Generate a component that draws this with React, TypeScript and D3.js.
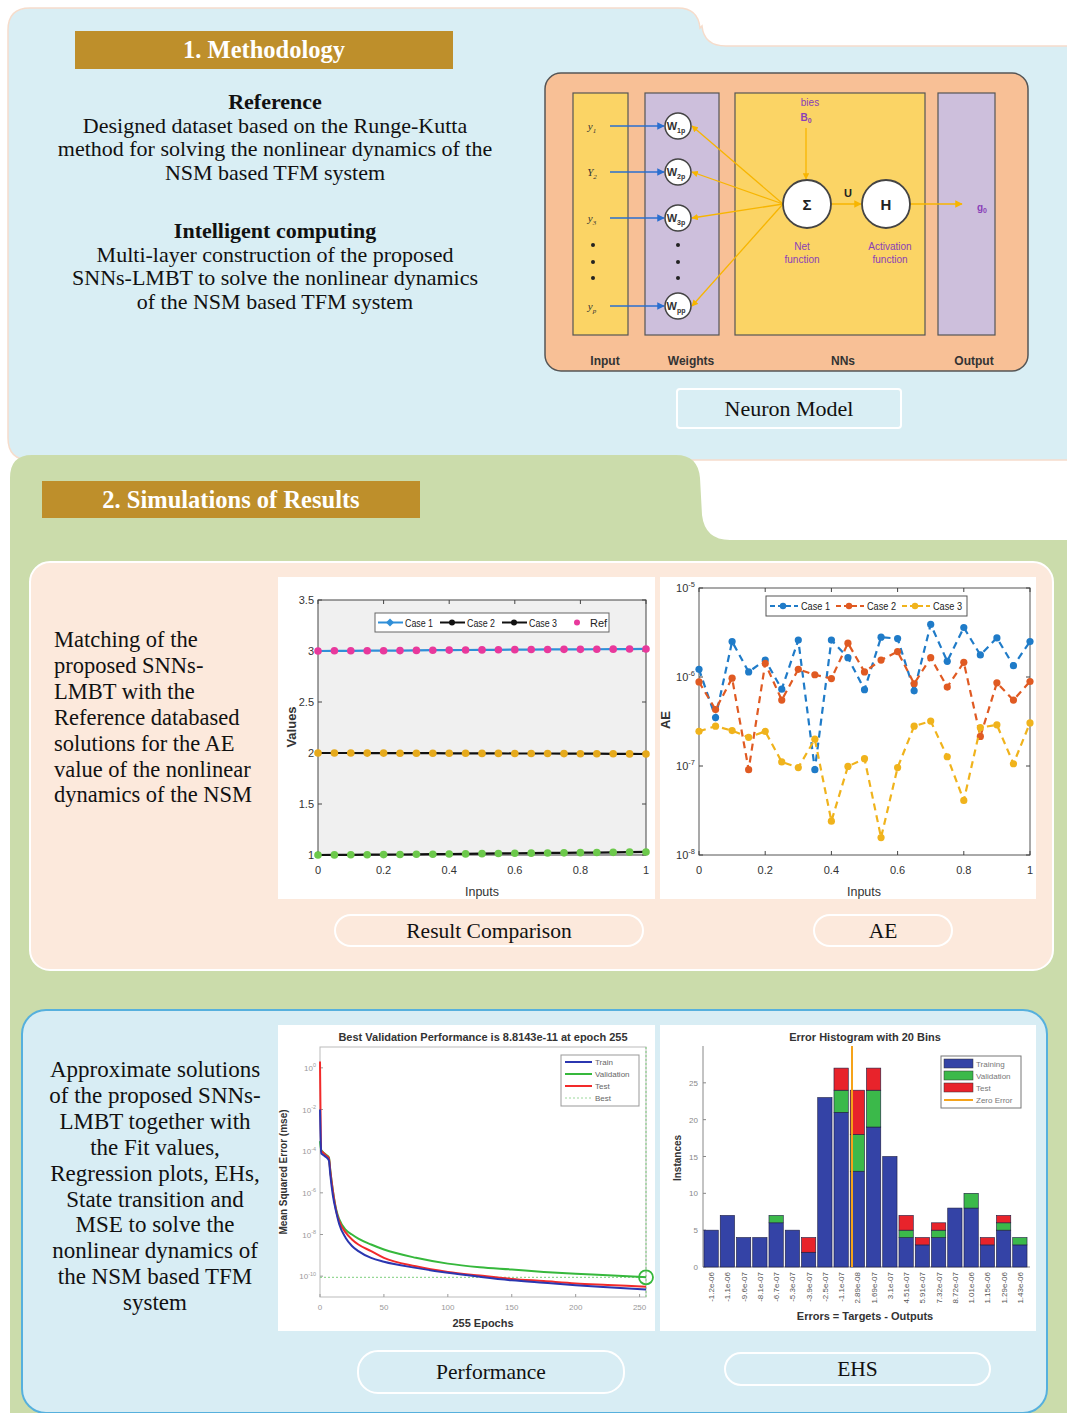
import React from "react";
import * as d3 from "d3";

// ---- data ----
const inputs = [0, 0.05, 0.1, 0.15, 0.2, 0.25, 0.3, 0.35, 0.4, 0.45, 0.5, 0.55, 0.6, 0.65, 0.7, 0.75, 0.8, 0.85, 0.9, 0.95, 1];

const case1Values = [3.0, 3.002, 3.002, 3.003, 3.003, 3.004, 3.006, 3.008, 3.009, 3.01, 3.011, 3.012, 3.013, 3.014, 3.015, 3.016, 3.016, 3.017, 3.018, 3.019, 3.02];
const case2Values = [2.0, 2.0, 2.0, 1.999, 1.999, 1.998, 1.998, 1.998, 1.997, 1.997, 1.996, 1.996, 1.995, 1.995, 1.995, 1.994, 1.993, 1.993, 1.992, 1.991, 1.99];
const case3Values = [1.0, 1.001, 1.002, 1.003, 1.004, 1.005, 1.007, 1.008, 1.01, 1.011, 1.013, 1.015, 1.017, 1.018, 1.02, 1.021, 1.023, 1.024, 1.026, 1.028, 1.03];

const aeCase1 = [1.22e-6, 3.5e-7, 2.5e-6, 1.14e-6, 1.55e-6, 7.3e-7, 2.6e-6, 9.1e-8, 2.6e-6, 1.65e-6, 7.2e-7, 2.8e-6, 2.7e-6, 7.0e-7, 3.9e-6, 1.5e-6, 3.6e-6, 1.77e-6, 2.75e-6, 1.34e-6, 2.5e-6];
const aeCase2 = [8.8e-7, 4.3e-7, 9.7e-7, 9.1e-8, 1.42e-6, 5.5e-7, 1.22e-6, 1.06e-6, 9.6e-7, 2.4e-6, 1.14e-6, 1.55e-6, 1.93e-6, 8.4e-7, 1.65e-6, 7.7e-7, 1.46e-6, 2.15e-7, 8.6e-7, 5.5e-7, 8.9e-7];
const aeCase3 = [2.45e-7, 2.8e-7, 2.5e-7, 2.1e-7, 2.45e-7, 1.11e-7, 9.6e-8, 2.0e-7, 2.4e-8, 9.9e-8, 1.21e-7, 1.57e-8, 9.6e-8, 2.8e-7, 3.2e-7, 1.27e-7, 4.1e-8, 2.7e-7, 2.9e-7, 1.06e-7, 3.05e-7];

const epochs = [0, 1, 2, 5, 7, 8, 10, 13, 15, 20, 25, 30, 40, 50, 75, 100, 125, 150, 175, 200, 225, 255];
const trainMse = [1e-2, 8e-5, 7e-5, 5e-5, 3.5e-5, 8e-6, 8e-7, 1e-7, 3.2e-8, 7e-9, 2.8e-9, 1.6e-9, 7.5e-10, 4.9e-10, 2.5e-10, 1.45e-10, 9.3e-11, 6.3e-11, 4.8e-11, 3.7e-11, 2.95e-11, 2.3e-11];
const validationMse = [3e-4, 1.1e-4, 9.5e-5, 6.5e-5, 5e-5, 1.3e-5, 1.4e-6, 1.3e-7, 5.5e-8, 1.7e-8, 1e-8, 6.3e-9, 3.3e-9, 1.9e-9, 7.6e-10, 4e-10, 2.7e-10, 2.1e-10, 1.6e-10, 1.3e-10, 1.12e-10, 8.8143e-11];
const testMse = [2, 1e-4, 9e-5, 6e-5, 4.5e-5, 1.2e-5, 1.3e-6, 1.1e-7, 4.4e-8, 1.26e-8, 5.8e-9, 3.3e-9, 1.6e-9, 7.6e-10, 3e-10, 1.6e-10, 1.07e-10, 7.4e-11, 5.8e-11, 4.5e-11, 3.8e-11, 3.1e-11];
const bestEpoch = 255;
const bestValue = 8.8143e-11;

const binLabels = ["-1.2e-06", "-1.1e-06", "-9.6e-07", "-8.1e-07", "-6.7e-07", "-5.3e-07", "-3.9e-07", "-2.5e-07", "-1.1e-07", "2.89e-08", "1.69e-07", "3.1e-07", "4.51e-07", "5.91e-07", "7.32e-07", "8.72e-07", "1.01e-06", "1.15e-06", "1.29e-06", "1.43e-06"];
const binCenters = [-1.2e-6, -1.06e-6, -9.6e-7, -8.1e-7, -6.7e-7, -5.3e-7, -3.9e-7, -2.5e-7, -1.1e-7, 2.89e-8, 1.69e-7, 3.1e-7, 4.51e-7, 5.91e-7, 7.32e-7, 8.72e-7, 1.01e-6, 1.15e-6, 1.29e-6, 1.43e-6];
const trainingCounts = [5, 7, 4, 4, 6, 5, 2, 23, 21, 13, 19, 15, 4, 3, 4, 8, 8, 3, 5, 3];
const validationCounts = [0, 0, 0, 0, 1, 0, 0, 0, 3, 5, 5, 0, 1, 0, 1, 0, 2, 0, 1, 1];
const testCounts = [0, 0, 0, 0, 0, 0, 2, 0, 3, 6, 3, 0, 2, 1, 1, 0, 0, 1, 1, 0];

const SERIF = "'Liberation Serif', 'Times New Roman', serif";
const SANS = "'Liberation Sans', Arial, sans-serif";

function Pow({ x, y, exp, size = 10, fill = "#333", anchor = "end" }: any) {
  return (
    <text x={x} y={y} textAnchor={anchor} fontSize={size} fill={fill} fontFamily={SANS}>
      10<tspan dy={-size * 0.45} fontSize={size * 0.68}>{exp}</tspan>
    </text>
  );
}

function Backgrounds() {
  return (
    <g>
      <path
        d="M8,30 Q8,8 30,8 L678,8 Q698,8 700,28 L702,26 Q704,46 726,46 L1090,46 L1090,460 L30,460 Q8,460 8,438 Z"
        fill="#d9eef4" stroke="#f6dccb" strokeWidth={1.5}
      />
      <path
        d="M10,478 Q10,455 32,455 L676,455 Q698,455 700,478 L702,515 Q705,540 730,540 L1090,540 L1090,1430 L10,1430 Z"
        fill="#cbdcab"
      />
      <rect x={30} y={562} width={1023} height={408} rx={20} fill="#fce9dc" stroke="#fff" strokeWidth={2} />
      <rect x={22} y={1010} width={1025} height={403} rx={24} fill="#d8edf4" stroke="#56b0dd" strokeWidth={2} />
    </g>
  );
}

function TitleBar({ x, y, w, h, label }: any) {
  return (
    <g>
      <rect x={x} y={y} width={w} height={h} fill="#be8f2b" />
      <text x={x + w / 2} y={y + h / 2 + 8} textAnchor="middle" fontFamily={SERIF} fontWeight="bold" fontSize={24.5} fill="#fff">
        {label}
      </text>
    </g>
  );
}

function CenteredLines({ x, y0, step, lines, size = 22, anchor = "middle" }: any) {
  return (
    <g>
      {lines.map((l: any, i: number) => (
        <text key={i} x={x} y={y0 + i * step} textAnchor={anchor} fontFamily={SERIF} fontSize={size}
          fontWeight={l.bold ? "bold" : "normal"} fill="#111">
          {l.t}
        </text>
      ))}
    </g>
  );
}

function Pill({ x, y, w, h, label, rx = 16, fill }: any) {
  return (
    <g>
      <rect x={x} y={y} width={w} height={h} rx={rx} fill={fill} stroke="#fff" strokeWidth={2} />
      <text x={x + w / 2} y={y + h / 2 + 7} textAnchor="middle" fontFamily={SERIF} fontSize={21.5} fill="#111">{label}</text>
    </g>
  );
}

function NeuronModel() {
  const wY = [126, 172, 218, 306];
  const inLabels = ["y", "Y", "y", "y"];
  const inSubs = ["1", "2", "3", "p"];
  const wSubs = ["1p", "2p", "3p", "pp"];
  const yellow = "#fbd465";
  const lav = "#cdbfdc";
  const purple = "#8a3fb8";
  return (
    <g fontFamily={SANS}>
      <defs>
        <marker id="arrB" viewBox="0 0 10 10" refX={9} refY={5} markerWidth={5} markerHeight={5} orient="auto">
          <path d="M0,0 L10,5 L0,10 Z" fill="#2a6fd0" />
        </marker>
        <marker id="arrY" viewBox="0 0 10 10" refX={9} refY={5} markerWidth={5} markerHeight={5} orient="auto">
          <path d="M0,0 L10,5 L0,10 Z" fill="#f7b500" />
        </marker>
      </defs>
      <rect x={545} y={73} width={483} height={298} rx={16} fill="#f8c096" stroke="#555" strokeWidth={1.5} />
      <rect x={573} y={93} width={55} height={242} fill={yellow} stroke="#555" strokeWidth={1.2} />
      <rect x={645} y={93} width={74} height={242} fill={lav} stroke="#555" strokeWidth={1.2} />
      <rect x={735} y={93} width={190} height={242} fill={yellow} stroke="#555" strokeWidth={1.2} />
      <rect x={938} y={93} width={57} height={242} fill={lav} stroke="#555" strokeWidth={1.2} />
      {[["Input", 605], ["Weights", 691], ["NNs", 843], ["Output", 974]].map(([t, x]: any) => (
        <text key={t} x={x} y={365} textAnchor="middle" fontSize={12} fontWeight="bold" fill="#333">{t}</text>
      ))}
      {wY.map((y, i) => (
        <g key={i}>
          <text x={592} y={y + 4} textAnchor="middle" fontFamily={SERIF} fontStyle="italic" fontSize={11} fill="#333">
            {inLabels[i]}<tspan dy={3} fontSize={7}>{inSubs[i]}</tspan>
          </text>
          <line x1={610} y1={y} x2={664} y2={y} stroke="#2a6fd0" strokeWidth={1.5} markerEnd="url(#arrB)" />
          <line x1={783} y1={204} x2={692} y2={y} stroke="#f7b500" strokeWidth={1.3} markerEnd="url(#arrY)" />
          <circle cx={678} cy={y} r={13} fill="#fff" stroke="#444" strokeWidth={1.5} />
          <text x={676} y={y + 4} textAnchor="middle" fontSize={11} fontWeight="bold" fill="#333">
            W<tspan dy={3} fontSize={7}>{wSubs[i]}</tspan>
          </text>
        </g>
      ))}
      {[245, 262, 278].map((y) => (
        <g key={y}>
          <circle cx={593} cy={y} r={2} fill="#222" />
          <circle cx={678} cy={y} r={2} fill="#222" />
        </g>
      ))}
      <text x={810} y={106} textAnchor="middle" fontSize={10} fill={purple}>bies</text>
      <text x={806} y={121} textAnchor="middle" fontSize={10} fontWeight="bold" fill={purple}>B<tspan dy={2} fontSize={7}>0</tspan></text>
      <line x1={806} y1={128} x2={806} y2={179} stroke="#f7b500" strokeWidth={1.3} markerEnd="url(#arrY)" />
      <line x1={831} y1={204} x2={861} y2={204} stroke="#f7b500" strokeWidth={1.5} markerEnd="url(#arrY)" />
      <line x1={910} y1={204} x2={962} y2={204} stroke="#f7b500" strokeWidth={1.5} markerEnd="url(#arrY)" />
      <circle cx={807} cy={204} r={24} fill="#fff" stroke="#444" strokeWidth={1.8} />
      <circle cx={886} cy={204} r={24} fill="#fff" stroke="#444" strokeWidth={1.8} />
      <text x={807} y={210} textAnchor="middle" fontSize={15} fontWeight="bold" fill="#222">Σ</text>
      <text x={886} y={210} textAnchor="middle" fontSize={15} fontWeight="bold" fill="#222">H</text>
      <text x={848} y={197} textAnchor="middle" fontSize={11} fontWeight="bold" fill="#222">U</text>
      <text x={982} y={211} textAnchor="middle" fontSize={10} fontWeight="bold" fill={purple}>g<tspan dy={2} fontSize={7}>0</tspan></text>
      <text x={802} y={250} textAnchor="middle" fontSize={10} fill={purple}>Net</text>
      <text x={802} y={263} textAnchor="middle" fontSize={10} fill={purple}>function</text>
      <text x={890} y={250} textAnchor="middle" fontSize={10} fill={purple}>Activation</text>
      <text x={890} y={263} textAnchor="middle" fontSize={10} fill={purple}>function</text>
      <rect x={677} y={389} width={224} height={39} rx={3} fill="#d9eef4" stroke="#fff" strokeWidth={2} />
      <text x={789} y={416} textAnchor="middle" fontFamily={SERIF} fontSize={22} fill="#111">Neuron Model</text>
    </g>
  );
}

function ResultComparison() {
  const x = d3.scaleLinear().domain([0, 1]).range([318, 646]);
  const y = d3.scaleLinear().domain([1, 3.5]).range([855, 600]);
  const line = d3.line<number>().x((_, i) => x(inputs[i])).y((d) => y(d));
  const series = [
    { v: case1Values, stroke: "#2f8fd8", mark: "#e8399c" },
    { v: case2Values, stroke: "#111", mark: "#e6aa1c" },
    { v: case3Values, stroke: "#111", mark: "#6cc94b" },
  ];
  return (
    <g fontFamily={SANS}>
      <rect x={278} y={577} width={377} height={322} fill="#fff" />
      <rect x={318} y={600} width={328} height={255} fill="#f0f0f0" stroke="#444" strokeWidth={1} />
      {y.ticks(5).map((t) => (
        <g key={t}>
          <line x1={318} x2={322} y1={y(t)} y2={y(t)} stroke="#444" />
          <line x1={642} x2={646} y1={y(t)} y2={y(t)} stroke="#444" />
          <text x={314} y={y(t) + 4} textAnchor="end" fontSize={11} fill="#333">{t}</text>
        </g>
      ))}
      {x.ticks(5).map((t) => (
        <g key={t}>
          <line x1={x(t)} x2={x(t)} y1={855} y2={851} stroke="#444" />
          <line x1={x(t)} x2={x(t)} y1={600} y2={604} stroke="#444" />
          <text x={x(t)} y={874} textAnchor="middle" fontSize={11} fill="#333">{t}</text>
        </g>
      ))}
      <text x={482} y={896} textAnchor="middle" fontSize={13} fill="#333" textLength={34} lengthAdjust="spacingAndGlyphs">Inputs</text>
      <text transform="translate(296,727) rotate(-90)" textAnchor="middle" fontSize={13} fontWeight="bold" fill="#333">Values</text>
      {series.map((s, k) => (
        <g key={k}>
          <path d={line(s.v) || ""} fill="none" stroke={s.stroke} strokeWidth={2.2} />
          {s.v.map((d, i) => (
            <circle key={i} cx={x(inputs[i])} cy={y(d)} r={3.8} fill={s.mark} />
          ))}
        </g>
      ))}
      <rect x={375} y={613} width={234} height={19} fill="#fff" stroke="#666" />
      <line x1={378} x2={403} y1={622.5} y2={622.5} stroke="#2f8fd8" strokeWidth={2} />
      <path d="M390,618.5 L394,622.5 L390,626.5 L386,622.5 Z" fill="#2f8fd8" />
      <text x={405} y={627} fontSize={11} fill="#222" textLength={28} lengthAdjust="spacingAndGlyphs">Case 1</text>
      <line x1={440} x2={465} y1={622.5} y2={622.5} stroke="#111" strokeWidth={2} />
      <circle cx={452} cy={622.5} r={3} fill="#111" />
      <text x={467} y={627} fontSize={11} fill="#222" textLength={28} lengthAdjust="spacingAndGlyphs">Case 2</text>
      <line x1={502} x2={527} y1={622.5} y2={622.5} stroke="#111" strokeWidth={2} />
      <circle cx={514} cy={622.5} r={3} fill="#111" />
      <text x={529} y={627} fontSize={11} fill="#222" textLength={28} lengthAdjust="spacingAndGlyphs">Case 3</text>
      <circle cx={577} cy={622.5} r={3} fill="#e8399c" />
      <text x={590} y={627} fontSize={11} fill="#222">Ref</text>
    </g>
  );
}

function AEChart() {
  const x = d3.scaleLinear().domain([0, 1]).range([699, 1030]);
  const y = d3.scaleLog().domain([1e-8, 1e-5]).range([855, 588]);
  const line = d3.line<number>().x((_, i) => x(inputs[i])).y((d) => y(d));
  const series = [
    { v: aeCase1, c: "#1f7bc8", label: "Case 1" },
    { v: aeCase2, c: "#e05a22", label: "Case 2" },
    { v: aeCase3, c: "#f0b31c", label: "Case 3" },
  ];
  const decades = [-8, -7, -6, -5];
  return (
    <g fontFamily={SANS}>
      <rect x={660} y={577} width={376} height={322} fill="#fff" />
      <rect x={699} y={588} width={331} height={267} fill="#fff" stroke="#555" />
      {decades.map((e) => (
        <g key={e}>
          <line x1={699} x2={703} y1={y(10 ** e)} y2={y(10 ** e)} stroke="#444" />
          <line x1={1026} x2={1030} y1={y(10 ** e)} y2={y(10 ** e)} stroke="#444" />
          <Pow x={695} y={y(10 ** e) + 4} exp={e} size={11} />
        </g>
      ))}
      {x.ticks(5).map((t) => (
        <g key={t}>
          <line x1={x(t)} x2={x(t)} y1={855} y2={851} stroke="#444" />
          <line x1={x(t)} x2={x(t)} y1={588} y2={592} stroke="#444" />
          <text x={x(t)} y={874} textAnchor="middle" fontSize={11} fill="#333">{t}</text>
        </g>
      ))}
      <text x={864} y={896} textAnchor="middle" fontSize={13} fill="#333" textLength={34} lengthAdjust="spacingAndGlyphs">Inputs</text>
      <text transform="translate(670,720) rotate(-90)" textAnchor="middle" fontSize={13} fontWeight="bold" fill="#333">AE</text>
      {series.map((s, k) => (
        <g key={k}>
          <path d={line(s.v) || ""} fill="none" stroke={s.c} strokeWidth={2.2} strokeDasharray="7,5" />
          {s.v.map((d, i) => (
            <circle key={i} cx={x(inputs[i])} cy={y(d)} r={3.6} fill={s.c} />
          ))}
        </g>
      ))}
      <rect x={766} y={596} width={201} height={20} fill="#fff" stroke="#555" />
      {series.map((s, k) => {
        const lx = 770 + k * 66;
        return (
          <g key={k}>
            <line x1={lx} x2={lx + 28} y1={606} y2={606} stroke={s.c} strokeWidth={2} strokeDasharray="5,3" />
            <circle cx={lx + 13} cy={606} r={3.2} fill={s.c} />
            <text x={lx + 31} y={610} fontSize={11} fill="#222" textLength={29} lengthAdjust="spacingAndGlyphs">{s.label}</text>
          </g>
        );
      })}
    </g>
  );
}

function PerformanceChart() {
  const x = d3.scaleLinear().domain([0, 255]).range([320, 646]);
  const y = d3.scaleLog().domain([1e-11, 10]).range([1297, 1047]);
  const line = d3.line<number>().x((_, i) => x(epochs[i])).y((d) => y(d)).curve(d3.curveMonotoneX);
  const curves = [
    { v: validationMse, c: "#36b83c" },
    { v: testMse, c: "#f22a2a" },
    { v: trainMse, c: "#2b36b0" },
  ];
  const grey = "#9a9a9a";
  return (
    <g fontFamily={SANS}>
      <rect x={278} y={1025} width={377} height={306} fill="#fff" />
      <rect x={320} y={1047} width={326} height={250} fill="#fff" stroke="#bbb" />
      {[0, -2, -4, -6, -8, -10].map((e) => (
        <g key={e}>
          <line x1={320} x2={323} y1={y(10 ** e)} y2={y(10 ** e)} stroke={grey} />
          <Pow x={316} y={y(10 ** e) + 3} exp={e} size={8} fill={grey} />
        </g>
      ))}
      {x.ticks(5).map((t) => (
        <g key={t}>
          <line x1={x(t)} x2={x(t)} y1={1297} y2={1294} stroke={grey} />
          <text x={x(t)} y={1310} textAnchor="middle" fontSize={8} fill={grey}>{t}</text>
        </g>
      ))}
      <text x={483} y={1041} textAnchor="middle" fontSize={11} fontWeight="bold" fill="#333">
        Best Validation Performance is 8.8143e-11 at epoch 255
      </text>
      <text x={483} y={1327} textAnchor="middle" fontSize={11} fontWeight="bold" fill="#333">255 Epochs</text>
      <text transform="translate(287,1172) rotate(-90)" textAnchor="middle" fontSize={10} fontWeight="bold" fill="#333">
        Mean Squared Error  (mse)
      </text>
      <line x1={320} x2={646} y1={y(bestValue)} y2={y(bestValue)} stroke="#7ccf7c" strokeWidth={1} strokeDasharray="2,2" />
      <line x1={x(bestEpoch)} x2={x(bestEpoch)} y1={1047} y2={1297} stroke="#7ccf7c" strokeWidth={1} strokeDasharray="2,2" />
      {curves.map((c, k) => (
        <path key={k} d={line(c.v) || ""} fill="none" stroke={c.c} strokeWidth={2} />
      ))}
      <circle cx={x(bestEpoch)} cy={y(bestValue)} r={7} fill="none" stroke="#36b83c" strokeWidth={1.8} />
      <rect x={561} y={1055} width={78} height={51} fill="#fff" stroke="#999" />
      {[
        ["Train", "#2b36b0", ""],
        ["Validation", "#36b83c", ""],
        ["Test", "#f22a2a", ""],
        ["Best", "#9bd89b", "2,2"],
      ].map(([t, c, dash], i) => (
        <g key={t}>
          <line x1={565} x2={592} y1={1062 + i * 12} y2={1062 + i * 12} stroke={c} strokeWidth={dash ? 1 : 2} strokeDasharray={dash} />
          <text x={595} y={1065 + i * 12} fontSize={8} fill="#666">{t}</text>
        </g>
      ))}
    </g>
  );
}

function ErrorHistogram() {
  const idx = binLabels.map((_, i) => i);
  const x = d3.scaleBand<number>().domain(idx).range([703, 1028]).paddingInner(0.12).paddingOuter(0.06);
  const y = d3.scaleLinear().domain([0, 30]).range([1267, 1046]);
  const errX = d3.scaleLinear()
    .domain([binCenters[0], binCenters[binCenters.length - 1]])
    .range([x(0)! + x.bandwidth() / 2, x(idx.length - 1)! + x.bandwidth() / 2]);
  const grey = "#888";
  const cols = { tr: "#3443a6", va: "#3bb94a", te: "#e8232b" };
  return (
    <g fontFamily={SANS}>
      <rect x={660} y={1025} width={376} height={306} fill="#fff" />
      <line x1={703} x2={703} y1={1046} y2={1267} stroke={grey} />
      <line x1={703} x2={1030} y1={1267} y2={1267} stroke={grey} />
      {y.ticks(6).filter((t) => t <= 25).map((t) => (
        <g key={t}>
          <line x1={703} x2={706} y1={y(t)} y2={y(t)} stroke={grey} />
          <text x={698} y={y(t) + 3} textAnchor="end" fontSize={8} fill={grey}>{t}</text>
        </g>
      ))}
      {idx.map((i) => {
        const bx = x(i)!;
        const w = x.bandwidth();
        const a = trainingCounts[i];
        const b = a + validationCounts[i];
        const c = b + testCounts[i];
        return (
          <g key={i} stroke="#1c1c40" strokeWidth={0.6}>
            <rect x={bx} y={y(a)} width={w} height={y(0) - y(a)} fill={cols.tr} />
            {validationCounts[i] > 0 && <rect x={bx} y={y(b)} width={w} height={y(a) - y(b)} fill={cols.va} />}
            {testCounts[i] > 0 && <rect x={bx} y={y(c)} width={w} height={y(b) - y(c)} fill={cols.te} />}
          </g>
        );
      })}
      <line x1={errX(0)} x2={errX(0)} y1={1046} y2={1267} stroke="#f5a31a" strokeWidth={2} />
      {idx.map((i) => (
        <text key={i} transform={`translate(${x(i)! + x.bandwidth() / 2 + 3},1272) rotate(-90)`} textAnchor="end" fontSize={8} fill="#555">
          {binLabels[i]}
        </text>
      ))}
      <text x={865} y={1041} textAnchor="middle" fontSize={11} fontWeight="bold" fill="#333">Error Histogram with 20 Bins</text>
      <text x={865} y={1320} textAnchor="middle" fontSize={11} fontWeight="bold" fill="#333">Errors = Targets - Outputs</text>
      <text transform="translate(681,1158) rotate(-90)" textAnchor="middle" fontSize={10} fontWeight="bold" fill="#333">Instances</text>
      <rect x={941} y={1056} width={80} height={52} fill="#fff" stroke="#777" />
      {[
        ["Training", cols.tr],
        ["Validation", cols.va],
        ["Test", cols.te],
      ].map(([t, c], i) => (
        <g key={t}>
          <rect x={944} y={1059 + i * 12} width={29} height={9} fill={c} stroke="#333" strokeWidth={0.5} />
          <text x={976} y={1067 + i * 12} fontSize={8} fill="#777">{t}</text>
        </g>
      ))}
      <line x1={944} x2={973} y1={1100} y2={1100} stroke="#f5a31a" strokeWidth={2} />
      <text x={976} y={1103} fontSize={8} fill="#777">Zero Error</text>
    </g>
  );
}

export default function App() {
  return (
    <svg width={1067} height={1413} style={{ position: "absolute", left: 0, top: 0, display: "block" }}>
      <rect width={1067} height={1413} fill="#fff" />
      <Backgrounds />
      <TitleBar x={75} y={31} w={378} h={38} label="1. Methodology" />
      <TitleBar x={42} y={481} w={378} h={37} label="2. Simulations of Results" />
      <CenteredLines
        x={275} y0={109} step={23.5}
        lines={[
          { t: "Reference", bold: true },
          { t: "Designed dataset based on the Runge-Kutta" },
          { t: "method for solving the nonlinear dynamics of the" },
          { t: "NSM based TFM system" },
        ]}
      />
      <CenteredLines
        x={275} y0={238} step={23.5}
        lines={[
          { t: "Intelligent computing", bold: true },
          { t: "Multi-layer construction of the proposed" },
          { t: "SNNs-LMBT to solve the nonlinear dynamics" },
          { t: "of the NSM based TFM system" },
        ]}
      />
      <NeuronModel />
      <CenteredLines
        x={54} y0={647} step={25.9} anchor="start" size={22.5}
        lines={["Matching of the", "proposed SNNs-", "LMBT with the", "Reference databased", "solutions for the AE",
          "value of the nonlinear", "dynamics of the NSM"].map((t) => ({ t }))}
      />
      <ResultComparison />
      <AEChart />
      <Pill x={335} y={915} w={308} h={31} label="Result Comparison" fill="#fce9dc" />
      <Pill x={814} y={915} w={138} h={31} label="AE" fill="#fce9dc" />
      <CenteredLines
        x={155} y0={1077} step={25.9} size={23}
        lines={["Approximate solutions", "of the proposed SNNs-", "LMBT together with", "the Fit values,", "Regression plots, EHs,",
          "State transition and", "MSE to solve the", "nonlinear dynamics of", "the NSM based TFM", "system"].map((t) => ({ t }))}
      />
      <PerformanceChart />
      <ErrorHistogram />
      <Pill x={358} y={1351} w={266} h={42} rx={20} label="Performance" fill="#d8edf4" />
      <Pill x={725} y={1353} w={265} h={32} label="EHS" fill="#d8edf4" />
    </svg>
  );
}
